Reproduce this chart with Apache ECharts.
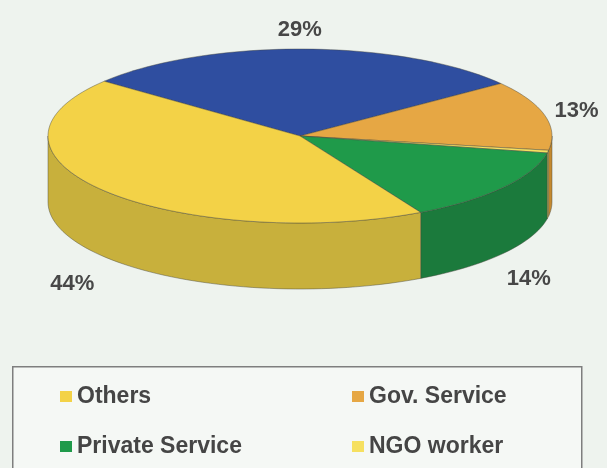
<!DOCTYPE html>
<html>
<head>
<meta charset="utf-8">
<script src="https://cdn.jsdelivr.net/npm/echarts@6/dist/echarts.min.js"></script>
<style>
  html, body { margin: 0; padding: 0; background: #eef3ee; }
  #chart { width: 607px; height: 468px; }
</style>
</head>
<body>
<div id="chart"></div>
<script>
// slices in clockwise order, starting at the upper-left edge of the blue slice
const categories = ['Business', 'Gov. Service', 'NGO worker', 'Private Service', 'Others'];
const values = [29, 13, 0.5, 14, 44];
const legendLeft = ['Others', 'Private Service'];
const legendRight = ['Gov. Service', 'NGO worker'];

const topColors = ['#2f4ea0', '#e6a744', '#f6e060', '#1f9a4a', '#f3d247'];
const sideColors = ['#243f84', '#c4892f', '#d9c24a', '#1b7a3c', '#c8b03c'];

// pie geometry (tilted ellipse + wall depth)
const CX = 300, CY = 136, RX = 252, RY = 87, H = 66;
const START = 141;
const total = values.reduce((a, b) => a + b, 0);

function pt(a, dy) {
  const r = a * Math.PI / 180;
  return [CX + RX * Math.cos(r), CY - RY * Math.sin(r) + (dy || 0)];
}
function arc(a1, a2, dy) {
  const n = Math.max(2, Math.ceil(Math.abs(a2 - a1) / 2));
  const pts = [];
  for (let k = 0; k <= n; k++) pts.push(pt(a1 + (a2 - a1) * k / n, dy));
  return pts;
}

function drawSlice(i, api) {
  const before = values.slice(0, i).reduce((a, b) => a + b, 0);
  const v = api.value(0);
  const start = START - 360 * before / total;
  const end = start - 360 * v / total;
  const children = [];
  const edge = { stroke: 'rgba(70,70,60,0.55)', lineWidth: 0.8 };

  // front wall, only where the rim faces the viewer
  for (let k = -1; k <= 1; k++) {
    const lo = -180 + 360 * k, hi = 360 * k;
    const s = Math.max(end, lo), e = Math.min(start, hi);
    if (e > s) {
      children.push({
        type: 'polygon',
        shape: { points: arc(e, s, 0).concat(arc(s, e, H)) },
        style: Object.assign({ fill: sideColors[i] }, edge),
        z2: 1
      });
    }
  }

  // top face
  children.push({
    type: 'polygon',
    shape: { points: [[CX, CY]].concat(arc(start, end, 0)) },
    style: Object.assign({ fill: topColors[i] }, edge),
    z2: 10
  });

  // percent label
  if (v >= 1) {
    const mid = (start + end) / 2 * Math.PI / 180;
    const s = Math.sin(mid);
    const x = CX - 5 + 290 * Math.cos(mid);
    const y = CY - 106 * s + (s < 0 ? H + 14 : 0);
    children.push({
      type: 'text',
      x: x, y: y,
      style: {
        text: Math.round(v) + '%',
        fill: '#474747',
        font: 'bold 22px "Liberation Sans", Arial, sans-serif',
        align: 'center', verticalAlign: 'middle',
        textAlign: 'center', textVerticalAlign: 'middle'
      },
      z2: 20
    });
  }
  return { type: 'group', children: children };
}

const chart = echarts.init(document.getElementById('chart'));

const legendText = {
  color: '#454545',
  fontSize: 23,
  fontWeight: 'bold',
  fontFamily: '"Liberation Sans", Arial, sans-serif'
};

chart.setOption({
  backgroundColor: '#eef3ee',
  animation: false,
  graphic: [{
    type: 'rect',
    left: 12, top: 366,
    shape: { width: 569, height: 130 },
    style: { fill: '#f5f8f5', stroke: '#7e7e7e', lineWidth: 1.5 },
    silent: true
  }],
  legend: [
    {
      data: legendLeft, orient: 'vertical', left: 55, top: 380,
      icon: 'rect', itemWidth: 12, itemHeight: 11, itemGap: 27,
      textStyle: legendText, selectedMode: false
    },
    {
      data: legendRight, orient: 'vertical', left: 347, top: 380,
      icon: 'rect', itemWidth: 12, itemHeight: 11, itemGap: 27,
      textStyle: legendText, selectedMode: false
    }
  ],
  series: categories.map((name, i) => ({
    type: 'custom',
    name: name,
    coordinateSystem: 'none',
    silent: true,
    itemStyle: { color: topColors[i] },
    data: [values[i]],
    renderItem: (params, api) => drawSlice(i, api)
  }))
});

window.addEventListener('resize', () => chart.resize());
</script>
</body>
</html>
